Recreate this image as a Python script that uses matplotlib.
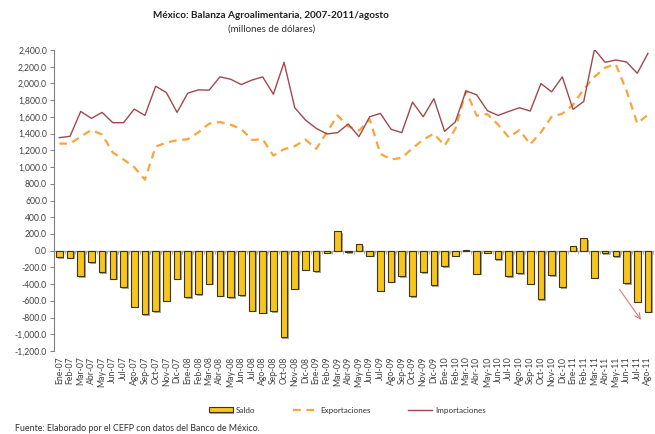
import matplotlib
matplotlib.use("Agg")
import matplotlib.pyplot as plt
import matplotlib.patheffects as pe
from matplotlib.ticker import FuncFormatter, MultipleLocator
import numpy as np

plt.rcParams['font.family'] = ['Lato', 'DejaVu Sans']

meses = ["Ene", "Feb", "Mar", "Abr", "May", "Jun", "Jul", "Ago", "Sep", "Oct", "Nov", "Dic"]
labels = [f"{m}-{a:02d}" for a in range(7, 12) for m in meses][:56]

saldo = [-75, -83, -305, -135, -254, -333, -433, -671, -758, -726, -599, -333,
         -552, -520, -393, -536, -552, -528, -718, -742, -726, -1036, -456, -226,
         -246, -24, 234, -16, 75, -60, -480, -369, -306, -540, -254, -409,
         -183, -60, 8, -274, -24, -99, -302, -266, -393, -579, -290, -433,
         56, 151, -321, -32, -63, -385, -611, -730]

exportaciones = [1281, 1281, 1364, 1444, 1388, 1174, 1091, 999, 849, 1245, 1293, 1321,
                 1333, 1416, 1519, 1539, 1507, 1456, 1325, 1333, 1138, 1214, 1249, 1329,
                 1218, 1416, 1618, 1487, 1436, 1571, 1158, 1091, 1110, 1225, 1329, 1400,
                 1257, 1455, 1912, 1614, 1634, 1507, 1356, 1444, 1273, 1416, 1602, 1638,
                 1745, 1932, 2079, 2190, 2229, 1912, 1523, 1626]

importaciones = [1352, 1368, 1666, 1583, 1654, 1531, 1531, 1694, 1618, 1967, 1892, 1654,
                 1884, 1924, 1920, 2079, 2051, 1987, 2041, 2079, 1872, 2253, 1710, 1563,
                 1464, 1396, 1412, 1515, 1364, 1602, 1642, 1452, 1412, 1777, 1602, 1817,
                 1428, 1540, 1912, 1864, 1674, 1618, 1666, 1710, 1670, 1999, 1900, 2079,
                 1690, 1785, 2408, 2253, 2281, 2257, 2122, 2360]

x = np.arange(len(labels))

fig = plt.figure(figsize=(6.55, 4.34), dpi=100)
ax = fig.add_axes([0.0824, 0.1912, 0.915, 0.6935])

bars = ax.bar(x, saldo, width=0.62, color='#F6C61E', edgecolor='#3d3510', linewidth=0.8,
              label='Saldo', zorder=2)
for b in bars:
    b.set_path_effects([pe.SimplePatchShadow(offset=(1.2, -1.2), shadow_rgbFace='#808080', alpha=0.7),
                        pe.Normal()])
l_exp, = ax.plot(x, exportaciones, color='#F9A53A', lw=1.6, ls=(0, (3.5, 2.5)),
                 label='Exportaciones', zorder=3)
l_imp, = ax.plot(x, importaciones, color='#A0484E', lw=1.0, label='Importaciones', zorder=3)

ax.set_xlim(-0.5, len(labels) - 0.5)
ax.set_ylim(-1200, 2400)
ax.yaxis.set_major_locator(MultipleLocator(200))
ax.yaxis.set_major_formatter(FuncFormatter(lambda v, p: f"{v:,.1f}"))
ax.tick_params(axis='y', labelsize=6.2, colors='#404040', length=3, width=0.7, pad=2,
               color='#808080')
ax.set_xticks(x)
ax.set_xticklabels(labels, rotation=90, fontsize=6.2, color='#404040')
ax.tick_params(axis='x', length=0, pad=4)

for s in ['top', 'right', 'bottom']:
    ax.spines[s].set_visible(False)
ax.spines['left'].set_color('#808080')
ax.spines['left'].set_linewidth(0.8)

# eje de categorias en cero
sec = ax.secondary_xaxis(1 / 3)
sec.set_xticks(np.arange(-0.5, len(labels), 1))
sec.set_xticklabels([])
sec.tick_params(axis='x', direction='out', length=2.5, width=0.6, color='#a0a0a0')
sec.spines['bottom'].set_color('#a0a0a0')
sec.spines['bottom'].set_linewidth(0.9)

ax.annotate('', xy=(54.5, -855), xytext=(52.2, -437),
            arrowprops=dict(arrowstyle='->', color='#E07878', lw=0.8))

fig.text(0.414, 0.965, "México: Balanza Agroalimentaria, 2007-2011/agosto", ha='center', va='center',
         fontsize=7.2, fontweight='bold', color='#202020')
fig.text(0.414, 0.932, "(millones de dólares)", ha='center', va='center', fontsize=7, color='#303030')

fig.legend(handles=[bars, l_exp, l_imp], loc='center', bbox_to_anchor=(0.53, 0.055), ncol=3,
           frameon=False, fontsize=5.8, handlelength=3.0, columnspacing=4.6, handletextpad=0.4,
           handleheight=0.6, borderaxespad=0, labelcolor='#303030')

fig.text(0.023, 0.012, "Fuente: Elaborado por el CEFP con datos del Banco de México.", ha='left',
         va='center', fontsize=6.4, color='#303030')

fig.savefig("out.png", dpi=100)
